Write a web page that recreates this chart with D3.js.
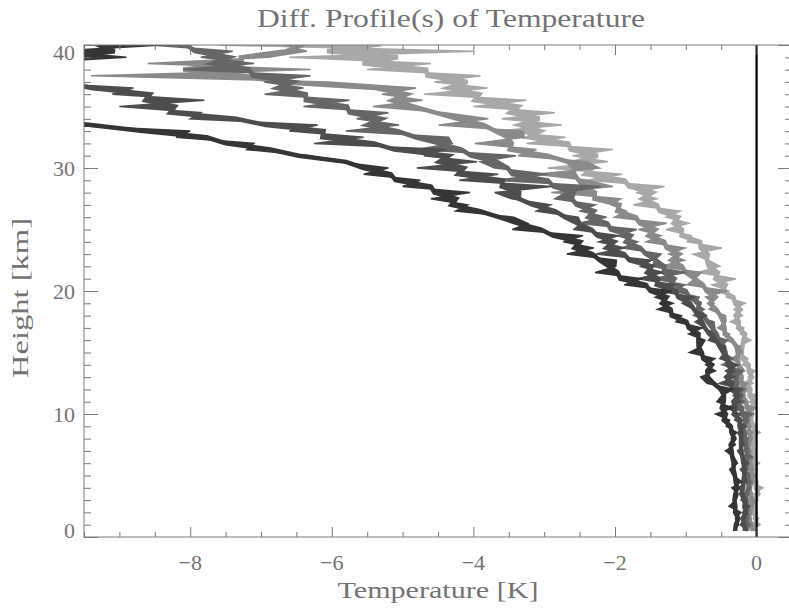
<html>
	<head>
		<meta content="text/html;charset=utf-8" http-equiv="Content-Type">
		<script src="https://d3js.org/d3.v7.min.js"></script>
		<style>
		body { margin: 0; background: #fff; }
		text { font-family: "Liberation Serif", serif; fill: #737373; }
		</style>
	</head>
	<body>
		<svg id="chart"></svg>
		<script>

// heights of the profile levels [km]
var heights = [0.5,1,1.5,2,2.5,3,3.5,4,4.5,5,5.5,6,6.5,7,7.5,8,8.5,9,9.5,10,
	10.5,11,11.5,12,12.5,13,13.5,14,14.5,15,15.5,16,16.5,17,17.5,18,18.5,19,19.5,20,
	20.5,21,21.5,22,22.5,23,23.5,24,24.5,25,25.5,26,26.5,27,27.5,28,28.5,29,29.5,30,
	30.5,31,31.5,32,32.5,33,33.5,34,34.5,35,35.5,36,36.5,37,37.5,38,38.5,39,39.5,40,40.5];

// temperature differences [K], one array per profile (darkest first)
var profile1 = [-0.33,-0.25,-0.30,-0.22,-0.39,-0.29,-0.26,-0.35,-0.21,-0.33,-0.38,-0.27,-0.32,-0.44,-0.30,-0.36,-0.28,-0.43,-0.38,-0.58,
	-0.34,-0.56,-0.49,-0.33,-0.70,-0.79,-0.58,-0.72,-0.59,-0.95,-0.78,-0.73,-0.96,-0.77,-1.14,-1.06,-1.40,-1.18,-1.43,-1.20,
	-1.87,-1.62,-2.28,-1.99,-1.98,-2.68,-2.30,-2.73,-2.45,-3.45,-3.23,-3.43,-4.25,-4.08,-4.60,-4.05,-5.00,-4.75,-5.55,-5.20,
	-5.90,-6.30,-7.20,-7.10,-8.20,-8.00,-9.8,-10.4,-10.8,-11,-10.9,-11,-11,-10.5,-11,-9.9,-10.4,-8.9,-9.9,-8.4,-9.6];
var profile2 = [-0.13,-0.23,-0.16,-0.20,-0.10,-0.22,-0.17,-0.26,-0.14,-0.16,-0.23,-0.12,-0.21,-0.27,-0.17,-0.22,-0.27,-0.15,-0.31,-0.23,
	-0.43,-0.22,-0.33,-0.21,-0.53,-0.31,-0.44,-0.26,-0.52,-0.45,-0.44,-0.68,-0.59,-0.73,-0.87,-0.71,-0.89,-1.05,-0.88,-1.39,
	-1.16,-1.68,-1.32,-1.64,-1.48,-2.27,-1.86,-2.23,-1.94,-2.58,-2.48,-2.52,-3.11,-2.91,-3.46,-3.70,-2.90,-4.20,-3.65,-4.80,
	-3.95,-4.70,-4.40,-6.25,-5.55,-6.60,-6.20,-8.00,-7.85,-9.00,-7.80,-9.10,-8.80,-10.3,-10.2,-11,-10.6,-11,-11,-11,-11];
var profile3 = [-0.15,-0.08,-0.20,-0.12,-0.10,-0.21,-0.11,-0.14,-0.07,-0.17,-0.12,-0.21,-0.06,-0.18,-0.15,-0.12,-0.23,-0.15,-0.20,-0.05,
	-0.39,-0.17,-0.30,-0.17,-0.38,-0.29,-0.19,-0.49,-0.33,-0.47,-0.51,-0.41,-0.69,-0.59,-0.60,-0.89,-0.74,-0.87,-0.81,-1.18,
	-1.01,-1.47,-1.00,-1.47,-1.44,-1.35,-1.90,-1.68,-1.96,-1.69,-2.52,-2.12,-2.49,-2.28,-2.85,-2.70,-2.20,-3.70,-2.95,-3.70,
	-3.90,-3.40,-4.80,-4.30,-4.35,-5.80,-5.05,-5.65,-5.20,-6.40,-5.75,-6.95,-6.40,-6.95,-6.30,-8.10,-7.10,-7.85,-7.40,-8.55,-8.20];
var profile4 = [-0.02,-0.12,-0.07,-0.15,-0.05,-0.03,-0.14,-0.07,-0.11,0.00,-0.13,-0.08,-0.05,-0.18,-0.08,-0.12,-0.05,-0.16,-0.10,-0.15,
	-0.02,-0.25,-0.16,-0.21,-0.13,-0.33,-0.17,-0.23,-0.36,-0.20,-0.24,-0.42,-0.38,-0.55,-0.43,-0.44,-0.67,-0.60,-0.72,-0.42,
	-0.98,-0.87,-0.78,-1.36,-1.02,-1.24,-1.01,-1.56,-1.35,-1.67,-1.27,-2.01,-1.84,-2.05,-1.92,-2.90,-2.03,-2.39,-3.12,-2.22,
	-2.40,-3.37,-3.11,-3.98,-3.28,-3.30,-4.49,-3.79,-4.40,-5.42,-4.72,-5.29,-4.81,-6.05,-9.40,-6.30,-8.60,-6.90,-6.35,-6.68,-6.20];
var profile5 = [-0.08,0.05,-0.05,0.01,-0.12,0.02,-0.04,0.09,-0.09,-0.01,-0.07,0.04,-0.12,-0.01,-0.04,-0.10,0.05,-0.09,-0.05,-0.13,
	0.00,-0.10,0.01,-0.22,-0.05,-0.12,-0.02,-0.20,-0.12,-0.27,-0.25,-0.08,-0.23,-0.18,-0.37,-0.20,-0.32,-0.16,-0.43,-0.39,
	-0.63,-0.29,-0.83,-0.52,-0.68,-0.90,-0.49,-0.98,-0.92,-1.28,-0.96,-1.28,-1.08,-1.74,-1.41,-1.70,-1.30,-2.40,-1.90,-2.95,
	-2.10,-2.60,-2.03,-3.25,-2.70,-3.70,-2.75,-3.60,-2.85,-4.00,-3.25,-4.70,-3.80,-4.55,-3.90,-5.50,-4.60,-6.60,-4.00,-7.60,-4.60];

var profiles = [profile1, profile2, profile3, profile4, profile5];
var profileColors = ["#353535", "#4d4d4d", "#666666", "#8a8a8a", "#a8a8a8"];

var xDomain = [-9.5, 0.5];
var yDomain = [0, 40];
var xTicks = [-8, -6, -4, -2, 0];
var yTicks = [0, 10, 20, 30, 40];

var title = "Diff. Profile(s) of Temperature";
var xTitle = "Temperature [K]";
var yTitle = "Height [km]";

page();

function page(){
	var svg = d3.select("#chart").attr("width", 789).attr("height", 610);
	var left = 84, right = 792, top = 45, bottom = 537;
	var axisColor = "#7a7a7a";

	var x = d3.scaleLinear().domain(xDomain).range([left, right]);
	var y = d3.scaleLinear().domain(yDomain).range([bottom, top]);

	svg.append("clipPath").attr("id", "clip")
		.append("rect")
		.attr("x", left).attr("y", top)
		.attr("width", right - left).attr("height", bottom - top);

	var plot = svg.append("g").attr("clip-path", "url(#clip)");

	// profiles: a core along the local mean, spikes filled out to each value
	var area = d3.area()
		.x0(function(d){ return x(d.m); })
		.x1(function(d){ return x(d.t); })
		.y(function(d){ return y(d.h); });
	var line = d3.line().x(function(d){ return x(d.t); }).y(function(d){ return y(d.h); });
	var core = d3.line().x(function(d){ return x(d.m); }).y(function(d){ return y(d.h); });

	for (var i = profiles.length - 1; i >= 0; i--) {
		var p = profiles[i];
		var pts = heights.map(function(h, j){
			var a = p[Math.max(j - 1, 0)], b = p[Math.min(j + 1, p.length - 1)];
			return { h: h, t: p[j], m: (a + p[j] + b) / 3 };
		});
		plot.append("path")
			.datum(pts)
			.attr("d", area)
			.attr("fill", profileColors[i]);
		plot.append("path")
			.datum(pts)
			.attr("d", core)
			.attr("fill", "none")
			.attr("stroke", profileColors[i])
			.attr("stroke-width", 4.5);
		plot.append("path")
			.datum(pts)
			.attr("d", line)
			.attr("fill", "none")
			.attr("stroke", profileColors[i])
			.attr("stroke-width", 1.5);
	}

	// zero line
	svg.append("line")
		.attr("x1", x(0)).attr("x2", x(0))
		.attr("y1", top).attr("y2", bottom)
		.attr("stroke", "black")
		.attr("stroke-width", 2.2);

	// frame
	svg.append("rect")
		.attr("x", left).attr("y", top)
		.attr("width", right - left).attr("height", bottom - top)
		.attr("fill", "none")
		.attr("stroke", axisColor)
		.attr("stroke-width", 1);

	var xMinor = x.ticks(20).filter(function(v){ return xTicks.indexOf(v) < 0; });
	var yMinor = y.ticks(40).filter(function(v){ return yTicks.indexOf(v) < 0; });

	function tickAxis(axis, trans){
		var g = svg.append("g").attr("transform", trans).call(axis);
		g.select(".domain").remove();
		g.selectAll("text").remove();
		g.selectAll("line").attr("stroke", axisColor);
	}
	tickAxis(d3.axisBottom(x).tickValues(xTicks).tickSize(-10), "translate(0," + bottom + ")");
	tickAxis(d3.axisBottom(x).tickValues(xMinor).tickSize(-5), "translate(0," + bottom + ")");
	tickAxis(d3.axisTop(x).tickValues(xTicks).tickSize(-10), "translate(0," + top + ")");
	tickAxis(d3.axisTop(x).tickValues(xMinor).tickSize(-5), "translate(0," + top + ")");
	tickAxis(d3.axisLeft(y).tickValues(yTicks).tickSize(-14), "translate(" + left + ",0)");
	tickAxis(d3.axisLeft(y).tickValues(yMinor).tickSize(-7), "translate(" + left + ",0)");
	tickAxis(d3.axisRight(y).tickValues(yTicks).tickSize(-14), "translate(" + right + ",0)");
	tickAxis(d3.axisRight(y).tickValues(yMinor).tickSize(-7), "translate(" + right + ",0)");

	// tick labels
	var fmt = d3.format("d");
	svg.selectAll(".xlab").data(xTicks).enter().append("text")
		.attr("class", "xlab")
		.attr("x", function(d){ return x(d); })
		.attr("y", 570)
		.attr("text-anchor", "middle")
		.style("font-size", "22px")
		.text(function(d){ return fmt(d); });
	svg.selectAll(".ylab").data(yTicks).enter().append("text")
		.attr("class", "ylab")
		.attr("x", 75)
		.attr("y", function(d){ return Math.max(52, Math.min(530, y(d))) + 7.5; })
		.attr("text-anchor", "end")
		.style("font-size", "22px")
		.text(function(d){ return fmt(d); });

	// titles
	svg.append("text")
		.attr("x", 451).attr("y", 27)
		.attr("text-anchor", "middle")
		.attr("textLength", 388).attr("lengthAdjust", "spacingAndGlyphs")
		.style("font-size", "26px")
		.text(title);
	svg.append("text")
		.attr("x", (left + right) / 2).attr("y", 598)
		.attr("text-anchor", "middle")
		.attr("textLength", 201).attr("lengthAdjust", "spacingAndGlyphs")
		.style("font-size", "24px")
		.text(xTitle);
	svg.append("text")
		.attr("transform", "translate(28,298) rotate(-90)")
		.attr("text-anchor", "middle")
		.attr("textLength", 160).attr("lengthAdjust", "spacingAndGlyphs")
		.style("font-size", "23px")
		.text(yTitle);
}

		</script>
	</body>
</html>
